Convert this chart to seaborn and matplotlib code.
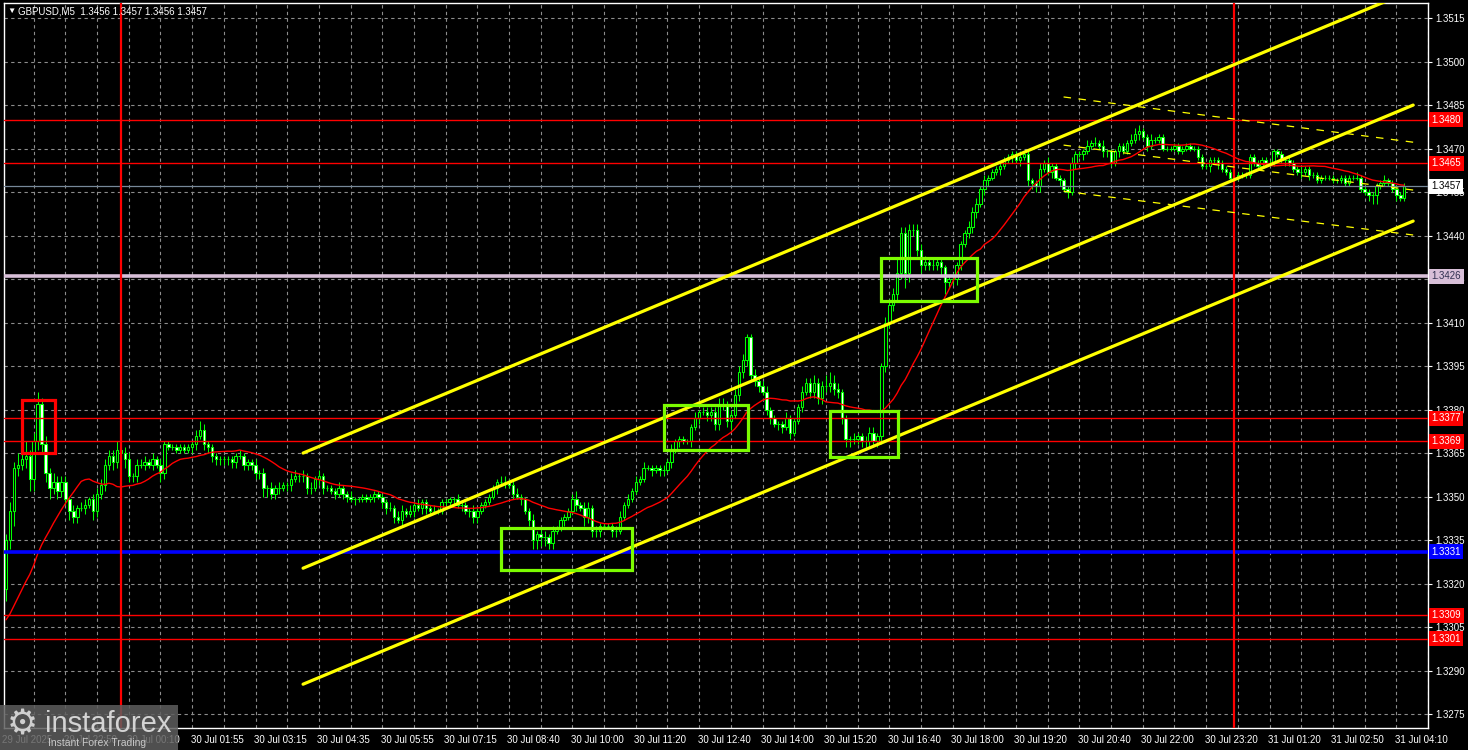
import numpy as np
import pandas as pd
import seaborn as sns
import matplotlib.pyplot as plt
import matplotlib.transforms as mtransforms
from matplotlib.patches import Rectangle

# --- data (prices, pips above 1.3300) ---
base = 1.3300
first_open = 18
closes = [35, 45, 60, 61, 63, 64, 56, 69, 82, 68,
          58, 53, 55, 52, 55, 49, 45, 43, 46, 46,
          47, 49, 45, 51, 54, 61, 64, 62, 66, 65,
          63, 57, 57, 61, 61, 62, 61, 63, 61, 58,
          68, 67, 67, 66, 67, 66, 67, 68, 71, 73,
          68, 67, 64, 63, 63, 63, 63, 62, 64, 64,
          61, 62, 61, 58, 58, 53, 53, 51, 53, 53,
          54, 54, 56, 57, 57, 57, 53, 53, 56, 57,
          53, 53, 52, 51, 53, 51, 50, 49, 49, 49,
          50, 49, 50, 51, 50, 48, 46, 46, 43, 42,
          45, 44, 45, 47, 46, 48, 46, 45, 45, 45,
          48, 48, 49, 49, 47, 47, 45, 45, 43, 45,
          47, 48, 50, 53, 55, 55, 55, 54, 51, 50,
          49, 45, 42, 35, 37, 36, 36, 34, 38, 39,
          42, 43, 45, 49, 47, 46, 43, 46, 38, 38,
          40, 40, 40, 38, 38, 43, 47, 49, 52, 55,
          56, 60, 60, 59, 60, 59, 59, 62, 66, 69,
          70, 69, 69, 74, 77, 79, 79, 78, 79, 75,
          82, 82, 76, 78, 85, 93, 97, 105, 92, 90,
          88, 86, 80, 77, 75, 75, 74, 77, 72, 76,
          81, 86, 89, 86, 89, 84, 88, 88, 89, 87,
          86, 77, 70, 70, 70, 71, 69, 69, 72, 69,
          71, 95, 110, 116, 120, 127, 141, 127, 142, 142,
          135, 130, 131, 130, 130, 131, 129, 124, 125, 125,
          130, 137, 141, 143, 148, 151, 156, 159, 160, 162,
          163, 164, 166, 167, 168, 166, 167, 168, 159, 158,
          157, 163, 165, 162, 164, 160, 159, 156, 155, 165,
          168, 168, 169, 171, 172, 172, 171, 169, 169, 165,
          169, 171, 169, 172, 173, 175, 176, 174, 171, 173,
          173, 174, 170, 170, 170, 171, 169, 170, 171, 170,
          170, 167, 164, 164, 166, 166, 165, 163, 162, 160,
          160, 161, 161, 161, 167, 165, 164, 166, 165, 165,
          169, 168, 166, 166, 165, 163, 162, 162, 163, 161,
          161, 159, 160, 160, 160, 159, 159, 160, 158, 160,
          160, 160, 156, 155, 154, 154, 157, 158, 159, 158,
          156, 154, 153, 157]
# closes before the visible window (only feed the moving average)
prior_closes = [4, 5, 7, 6, 8, 6, 5, 4, 6, 7, 5, 4, 6, 8, 7, 5, 6, 7, 9]
# wick lengths in pips above / below the body
wick_up = ("2324252342" "3232221212" "2122222232" "2212221212" "1111111123"
           "2111111112" "1112121212" "1122121212" "1111211211" "1111111212"
           "2121211121" "1111211121" "1111122122" "1112122121" "1112312212"
           "1111221212" "1211112121" "1111212222" "2212222112" "1221111211"
           "1222322443" "2111211222" "1122252222" "2221211112" "1112221211"
           "1111112121" "1212111112" "1112121211" "1111222112" "1111111111"
           "1111111111" "1111111111" "1111111211" "1111111111" "1211111121"
           "1111")
wick_dn = ("4353234433" "3423223221" "2132222322" "3222121213" "2111111221"
           "2222222221" "2222233222" "1221222212" "2112122121" "1112122121"
           "2112122111" "1112121222" "1111212121" "2123333221" "1211213222"
           "2112211111" "1112122121" "2112121222" "2223122222" "2122122121"
           "1212222222" "2233222322" "2322232532" "2322223422" "2212221221"
           "1211212122" "2211212121" "2121111221" "1211112121" "1111111111"
           "1111212111" "1111111111" "1112111212" "1111111111" "1111233111"
           "1211")

ma_period = 20

red_levels = [1.3480, 1.3465, 1.3377, 1.3369, 1.3309, 1.3301]
blue_level = 1.3331
pink_level = 1.3426
last_price = 1.3457

channel_x = [75, 355.25]
channel_upper = [1.3365, 1.35247]
channel_mid = [1.33253, 1.3485]
channel_lower = [1.32853, 1.3445]

reg_x = [267, 355.25]
reg_top = [1.34878, 1.34722]
reg_mid = [1.34712, 1.34557]
reg_bot = [1.34553, 1.34402]

day_separators = [29, 310]
red_boxes = [(4.0, 12.5, 1.3365, 1.33833)]
green_boxes = [(125, 158, 1.33247, 1.33391),
               (166, 187.25, 1.3366, 1.33816),
               (208, 225.25, 1.33636, 1.33795),
               (221, 245.25, 1.34174, 1.34322)]

y_ticks = [1.3275, 1.3290, 1.3305, 1.3320, 1.3335, 1.3350, 1.3365, 1.3380, 1.3395,
           1.3410, 1.3425, 1.3440, 1.3455, 1.3470, 1.3485, 1.3500, 1.3515]
x_labels = ["29 Jul 2025", "29 Jul 22:50", "30 Jul 00:10", "30 Jul 01:55", "30 Jul 03:15",
            "30 Jul 04:35", "30 Jul 05:55", "30 Jul 07:15", "30 Jul 08:40", "30 Jul 10:00",
            "30 Jul 11:20", "30 Jul 12:40", "30 Jul 14:00", "30 Jul 15:20", "30 Jul 16:40",
            "30 Jul 18:00", "30 Jul 19:20", "30 Jul 20:40", "30 Jul 22:00", "30 Jul 23:20",
            "31 Jul 01:20", "31 Jul 02:50", "31 Jul 04:10"]
x_label_bars = [-0.5] + [15 + 16 * k for k in range(22)]

# --- build OHLC frame ---
n = len(closes)
df = pd.DataFrame({'bar': np.arange(n)})
df['close'] = base + np.array(closes) / 10000
df['open'] = base + np.array([first_open] + closes[:-1]) / 10000
up = np.array([int(c) for c in wick_up[:n]])
dn = np.array([int(c) for c in wick_dn[:n]])
df['high'] = df[['open', 'close']].max(axis=1) + up / 10000
df['low'] = df[['open', 'close']].min(axis=1) - dn / 10000

allc = pd.Series(base + np.array(prior_closes + closes) / 10000)
df['ma'] = allc.rolling(ma_period).mean().iloc[len(prior_closes):].values

# --- figure ---
sns.set_style("dark")
plt.rcParams['font.family'] = ['Liberation Sans', 'DejaVu Sans']
FS = 7
W, H = 1468, 750
fig = plt.figure(figsize=(W / 100, H / 100), dpi=100, facecolor='black')
ax = fig.add_axes([4 / W, 22 / H, 1424 / W, 725 / H])
ax.set_facecolor('black')

# candles
bull = df['close'] >= df['open']
ax.vlines(df['bar'], df['low'], df['high'], color='#00FF00', linewidth=0.75, zorder=3)
bottoms = df[['open', 'close']].min(axis=1)
heights = (df['close'] - df['open']).abs()
faces = np.where(bull, 'black', 'white')
ax.bar(df['bar'], heights, bottom=bottoms, width=0.62, color=faces,
       edgecolor='#00FF00', linewidth=0.75, zorder=3)

# moving average
sns.lineplot(x=df['bar'], y=df['ma'], ax=ax, color='#FF0000', linewidth=1, zorder=4)

# horizontal levels
for lv in red_levels:
    ax.axhline(lv, color='#FF0000', linewidth=1, zorder=5)
ax.axhline(pink_level, color='#D8BFD8', linewidth=2.6, zorder=5)
ax.axhline(blue_level, color='#0000FF', linewidth=2.6, zorder=5)
ax.axhline(last_price, color='#778899', linewidth=0.9, zorder=5)
for d in day_separators:
    ax.axvline(d, color='#FF0000', linewidth=1.6, zorder=5)

# channels
for ys in (channel_upper, channel_mid, channel_lower):
    sns.lineplot(x=channel_x, y=ys, ax=ax, color='#FFFF00', linewidth=2.3, zorder=6)
for ys in (reg_top, reg_mid, reg_bot):
    sns.lineplot(x=reg_x, y=ys, ax=ax, color='#FFFF00', linewidth=0.9,
                 linestyle=(0, (6, 6)), zorder=6)

# signal boxes
for x0, x1, y0, y1 in red_boxes:
    ax.add_patch(Rectangle((x0, y0), x1 - x0, y1 - y0, fill=False,
                           edgecolor='#FF0000', linewidth=2.3, zorder=7))
for x0, x1, y0, y1 in green_boxes:
    ax.add_patch(Rectangle((x0, y0), x1 - x0, y1 - y0, fill=False,
                           edgecolor='#7CFC00', linewidth=2.3, zorder=7))

# axes, ticks, grid
ax.set_xlim(-0.5, 355.25)
ax.set_ylim(1.32702, 1.35202)
ax.set_xlabel('')
ax.set_ylabel('')
ax.set_xticks([7 + 8 * k for k in range(45)])
ax.set_xticklabels([])
ax.set_yticks(y_ticks)
ax.set_yticklabels([f"{v:.4f}" for v in y_ticks])
ax.grid(True, color='#8c8c8c', linestyle=(0, (3, 3)), linewidth=0.8, zorder=0)
ax.set_axisbelow(True)
ax.yaxis.tick_right()
ax.tick_params(axis='y', colors='white', labelsize=FS, length=3, pad=2, width=0.8)
ax.tick_params(axis='x', colors='white', length=3, width=0.8, direction='out')
for s in ax.spines.values():
    s.set_color('white')
    s.set_linewidth(1)

# price tags on the right axis
trans_y = mtransforms.blended_transform_factory(ax.transAxes, ax.transData)
tags = [(lv, '#FF0000', 'white') for lv in red_levels]
tags += [(pink_level, '#D8BFD8', '#303050'), (blue_level, '#0000FF', 'white'),
         (last_price, 'white', 'black')]
for lv, fc, tc in tags:
    ax.text(1.0025, lv, f"{lv:.4f}", transform=trans_y, ha='left', va='center',
            fontsize=FS, color=tc, clip_on=False, zorder=10,
            bbox=dict(boxstyle='square,pad=0.25', fc=fc, ec='none'))

# time labels
trans_x = mtransforms.blended_transform_factory(ax.transData, ax.transAxes)
for b, lab in zip(x_label_bars, x_labels):
    ax.text(b - 0.4, -0.009, lab, transform=trans_x, ha='left', va='top',
            fontsize=FS, color='white', clip_on=False)

# header
fig.text(7 / W, 1 - 11 / H, "▼", fontsize=6, color='white', va='center')
fig.text(18 / W, 1 - 11 / H, "GBPUSD,M5  1.3456 1.3457 1.3456 1.3457",
         fontsize=FS, color='white', va='center')

# watermark
fig.patches.append(Rectangle((0, 0), 178 / W, 45 / H, transform=fig.transFigure,
                             facecolor='#5e5e5e', alpha=0.85, edgecolor='none', zorder=20))
fig.text(7 / W, 25 / H, "⚙", fontsize=25, color='#cfcfcf', va='center', zorder=21)
fig.text(45 / W, 26 / H, "instaforex", fontsize=21, color='#d4d4d4', va='center', zorder=21)
fig.text(48 / W, 7 / H, "Instant Forex Trading", fontsize=7.5, color='#c8c8c8',
         va='center', zorder=21)

fig.savefig('out.png', dpi=100, facecolor='black')
